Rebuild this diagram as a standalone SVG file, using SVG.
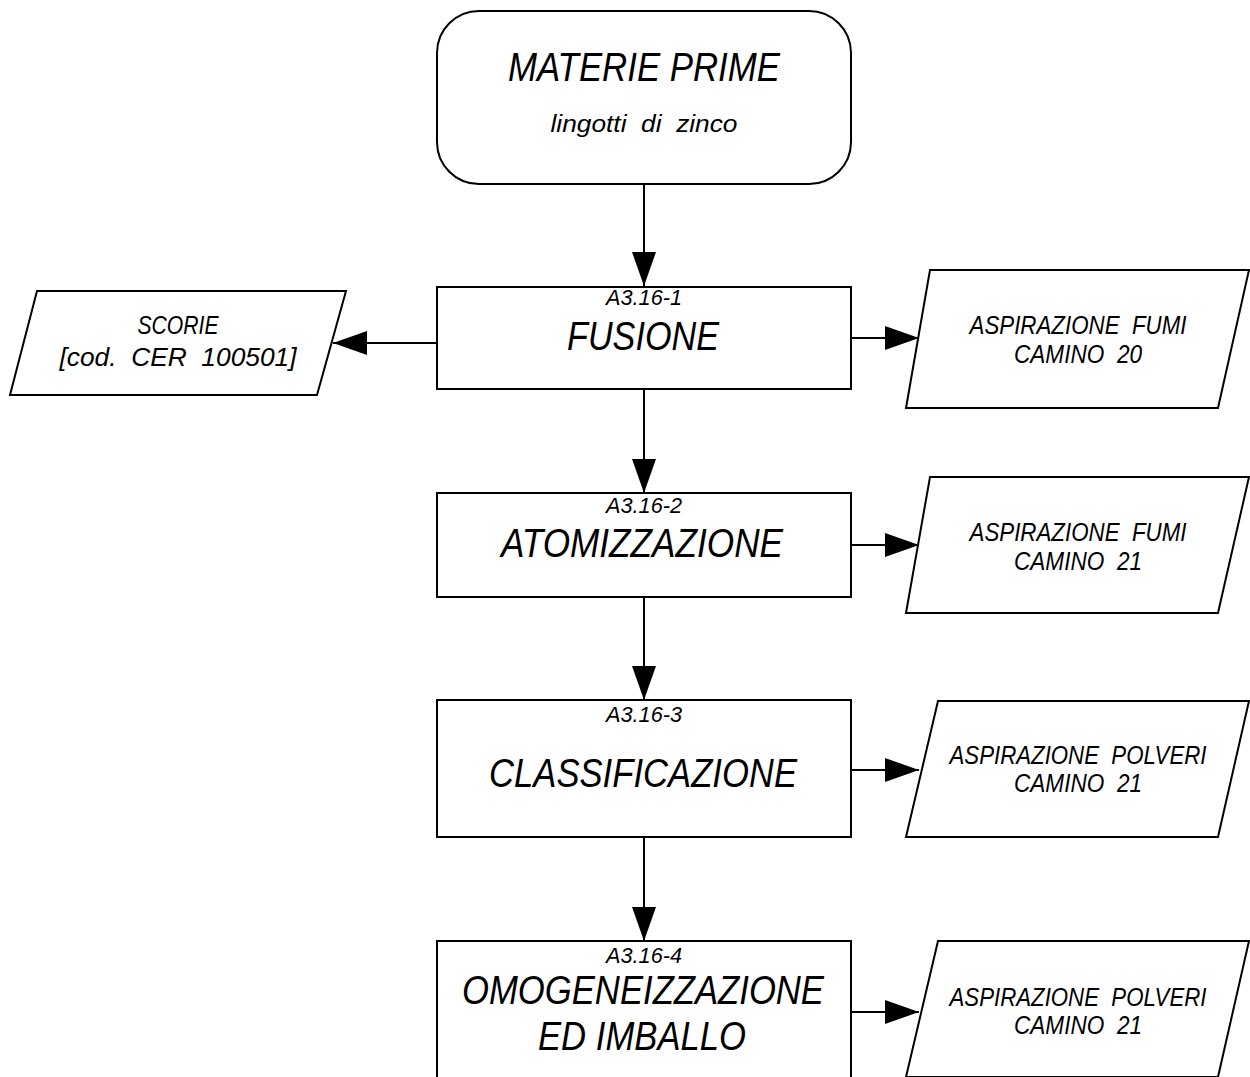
<svg xmlns="http://www.w3.org/2000/svg" width="1250" height="1077" viewBox="0 0 1250 1077">
<style>
.box{fill:#fff;stroke:#000;stroke-width:2}
.con{fill:none;stroke:#000;stroke-width:2}
text{font-family:"Liberation Sans",Arial,sans-serif;font-style:italic;fill:#000;text-anchor:middle;white-space:pre}
.big{font-size:41px}
.tag{font-size:22px}
.out{font-size:26px}
.sub{font-size:24px}
</style>
<defs>
<marker id="ah" markerUnits="userSpaceOnUse" markerWidth="36" markerHeight="26" refX="34" refY="12" orient="auto" viewBox="0 0 36 26">
<path d="M0,0 L34,12 L0,24 Z" fill="#000"/>
</marker>
</defs>
<rect width="1250" height="1077" fill="#fff"/>
<g id="connectors">
<line class="con" x1="644" y1="184" x2="644" y2="286" marker-end="url(#ah)"/>
<line class="con" x1="644" y1="389" x2="644" y2="493" marker-end="url(#ah)"/>
<line class="con" x1="644" y1="597" x2="644" y2="700" marker-end="url(#ah)"/>
<line class="con" x1="644" y1="837" x2="644" y2="941" marker-end="url(#ah)"/>
<line class="con" x1="437" y1="343" x2="333" y2="343" marker-end="url(#ah)"/>
<line class="con" x1="851" y1="338" x2="919" y2="338" marker-end="url(#ah)"/>
<line class="con" x1="851" y1="545" x2="919" y2="545" marker-end="url(#ah)"/>
<line class="con" x1="851" y1="770" x2="919" y2="770" marker-end="url(#ah)"/>
<line class="con" x1="851" y1="1012" x2="919" y2="1012" marker-end="url(#ah)"/>
</g>
<g id="materie-prime">
<rect class="box" x="437" y="11" width="414" height="173" rx="42"/>
<text class="big" x="644" y="81" textLength="272" lengthAdjust="spacingAndGlyphs">MATERIE PRIME</text>
<text class="sub" x="644" y="132" textLength="187" lengthAdjust="spacingAndGlyphs">lingotti  di  zinco</text>
</g>
<g id="fusione">
<rect class="box" x="437" y="287" width="414" height="102"/>
<text class="tag" x="644" y="305" textLength="76" lengthAdjust="spacingAndGlyphs">A3.16-1</text>
<text class="big" x="643" y="350" textLength="152" lengthAdjust="spacingAndGlyphs">FUSIONE</text>
</g>
<g id="scorie">
<polygon class="box" points="37,291 346,291 317,395 10,395"/>
<text class="out" x="178" y="334" textLength="81" lengthAdjust="spacingAndGlyphs">SCORIE</text>
<text class="out" x="178" y="366" textLength="237" lengthAdjust="spacingAndGlyphs">[cod.  CER  100501]</text>
</g>
<g id="fumi-20">
<polygon class="box" points="930,270 1249,270 1218,408 906,408"/>
<text class="out" x="1078" y="334" textLength="217" lengthAdjust="spacingAndGlyphs">ASPIRAZIONE  FUMI</text>
<text class="out" x="1078" y="363" textLength="128" lengthAdjust="spacingAndGlyphs">CAMINO  20</text>
</g>
<g id="atomizzazione">
<rect class="box" x="437" y="493" width="414" height="104"/>
<text class="tag" x="644" y="513" textLength="76" lengthAdjust="spacingAndGlyphs">A3.16-2</text>
<text class="big" x="642" y="557" textLength="282" lengthAdjust="spacingAndGlyphs">ATOMIZZAZIONE</text>
</g>
<g id="fumi-21">
<polygon class="box" points="930,477 1249,477 1218,613 906,613"/>
<text class="out" x="1078" y="541" textLength="217" lengthAdjust="spacingAndGlyphs">ASPIRAZIONE  FUMI</text>
<text class="out" x="1078" y="570" textLength="128" lengthAdjust="spacingAndGlyphs">CAMINO  21</text>
</g>
<g id="classificazione">
<rect class="box" x="437" y="700" width="414" height="137"/>
<text class="tag" x="644" y="722" textLength="76" lengthAdjust="spacingAndGlyphs">A3.16-3</text>
<text class="big" x="643" y="787" textLength="308" lengthAdjust="spacingAndGlyphs">CLASSIFICAZIONE</text>
</g>
<g id="polveri-21a">
<polygon class="box" points="938,701 1249,701 1218,837 906,837"/>
<text class="out" x="1078" y="764" textLength="257" lengthAdjust="spacingAndGlyphs">ASPIRAZIONE  POLVERI</text>
<text class="out" x="1078" y="792" textLength="128" lengthAdjust="spacingAndGlyphs">CAMINO  21</text>
</g>
<g id="omogeneizzazione">
<rect class="box" x="437" y="941" width="414" height="150"/>
<text class="tag" x="644" y="963" textLength="76" lengthAdjust="spacingAndGlyphs">A3.16-4</text>
<text class="big" x="643" y="1004" textLength="362" lengthAdjust="spacingAndGlyphs">OMOGENEIZZAZIONE</text>
<text class="big" x="642" y="1050" textLength="208" lengthAdjust="spacingAndGlyphs">ED IMBALLO</text>
</g>
<g id="polveri-21b">
<polygon class="box" points="938,941 1249,941 1218,1077 906,1077"/>
<text class="out" x="1078" y="1006" textLength="257" lengthAdjust="spacingAndGlyphs">ASPIRAZIONE  POLVERI</text>
<text class="out" x="1078" y="1034" textLength="128" lengthAdjust="spacingAndGlyphs">CAMINO  21</text>
</g>
</svg>
